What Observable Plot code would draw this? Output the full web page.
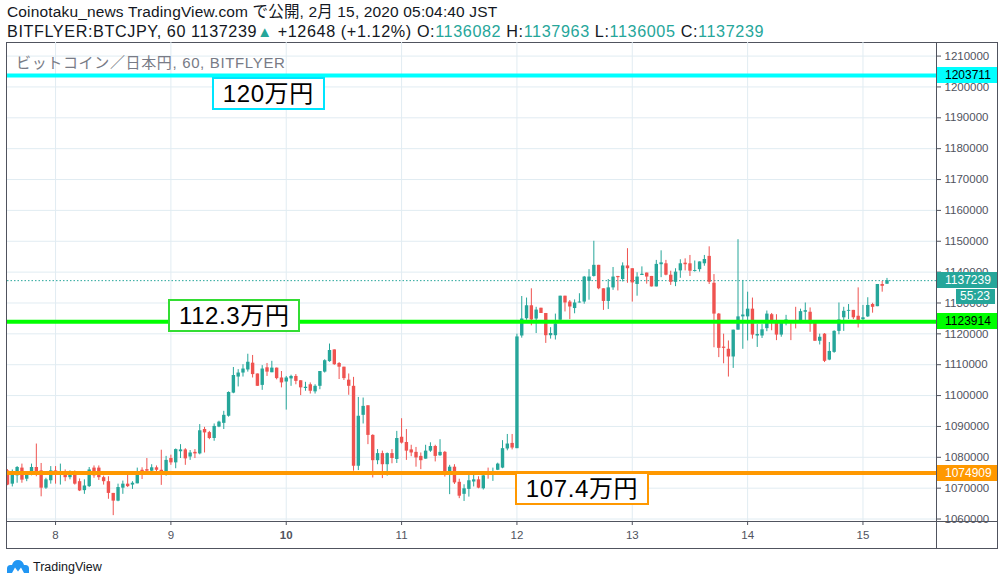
<!DOCTYPE html>
<html><head><meta charset="utf-8">
<script src="https://cdn.jsdelivr.net/npm/d3@7"></script>
<script src="https://cdn.jsdelivr.net/npm/@observablehq/plot@0.6"></script>
<style>
html,body{margin:0;padding:0;background:#fff;}
#root{position:relative;width:1002px;height:586px;overflow:hidden;font-family:"Liberation Sans","Noto Sans CJK JP",sans-serif;color:#131722;}
.hdr{position:absolute;left:7px;font-size:15.5px;white-space:nowrap;line-height:18px;}
.teal{color:#26a69a;}
#chart{position:absolute;left:0;top:42px;}
#outer{position:absolute;left:6px;top:42px;width:990px;height:505px;border:1px solid #50535e;}
#vsep{position:absolute;left:936px;top:42px;width:1px;height:506px;background:#50535e;}
#hsep{position:absolute;left:7px;top:521px;width:990px;height:1px;background:#50535e;}
#sub{position:absolute;left:16px;top:53px;font-size:15px;letter-spacing:0.65px;color:#787b86;white-space:nowrap;line-height:20px;}
.plabel{position:absolute;left:937px;width:60px;height:16px;font-size:12px;line-height:16px;padding-left:8px;box-sizing:border-box;white-space:nowrap;}
.anno{position:absolute;border:2px solid;background:#fff;font-size:24px;line-height:29px;padding:0 9px;white-space:nowrap;color:#000;letter-spacing:0.6px;font-family:"Liberation Sans","Noto Sans CJK JP",sans-serif;}
#logo{position:absolute;left:7px;top:559px;}
#logotxt{position:absolute;left:33px;top:559px;font-size:12.5px;color:#131722;line-height:16px;}
</style></head><body>
<div id="root">
  <div class="hdr" style="top:3px;letter-spacing:0.15px">Coinotaku_news TradingView.com で公開, 2月 15, 2020 05:04:40 JST</div>
  <div class="hdr" style="top:22px;font-size:16.2px;letter-spacing:0.6px">BITFLYER:BTCJPY, 60 1137239<span class="teal" style="font-size:15px">▲</span> +12648 (+1.12%) O:<span class="teal">1136082</span> H:<span class="teal">1137963</span> L:<span class="teal">1136005</span> C:<span class="teal">1137239</span></div>
  <div id="outer"></div>
  <div id="chart"></div>
  <div id="vsep"></div>
  <div id="hsep"></div>
  <div id="sub">ビットコイン／日本円, 60, BITFLYER</div>
  <svg id="logo" width="22" height="15" viewBox="0 0 22 15"><path d="M0 14 L0 9.5 Q0 6 3.5 6 L5 6 Q6.5 1 11 1 Q15.5 1 17 6 L18.5 6 Q22 6 22 9.5 L22 14 L17 14 L14 8.5 L11 12.5 L8 8.5 L5 14 Z" fill="#2196f3"/></svg>
  <div id="logotxt">TradingView</div>
</div>
<script>
// ---- data (JPY, hourly candles from 2020-02-07 14:00 JST) ----
const startTime = "2020-02-07T14:00:00Z";
const opens = [1075600,1071300,1074000,1076500,1072900,1074300,1076700,1075600,1070000,1072400,
1075600,1074500,1075200,1073400,1074800,1072100,1069200,1070500,1076500,1076500,
1073400,1072100,1068300,1065800,1070000,1071300,1071000,1071400,1075800,1076000,
1075500,1076600,1075800,1074400,1079600,1078200,1081800,1082400,1080100,1081600,
1081100,1089000,1088000,1086100,1089800,1091000,1093300,1100800,1106000,1107300,
1108300,1110500,1107000,1103300,1109000,1107400,1108900,1105700,1104400,1105400,
1106200,1104800,1102300,1103500,1101200,1103000,1107600,1111000,1114800,1110400,
1109200,1105000,1103000,1077100,1093600,1096700,1087100,1078900,1081200,1077600,
1081200,1079300,1086500,1084800,1082400,1081600,1080300,1079400,1082000,1083500,
1080500,1081600,1074100,1076800,1071900,1068000,1069600,1072000,1072700,1069800,
1074600,1074400,1075800,1076500,1082700,1084500,1082800,1119300,1124900,1129100,
1124800,1128300,1126600,1119400,1119400,1124400,1132200,1130300,1128200,1130000,
1130300,1137000,1138600,1142200,1134600,1130500,1134900,1138600,1137600,1142000,
1141100,1136000,1138900,1139700,1138600,1135200,1142400,1142700,1139000,1136700,
1140400,1142900,1142700,1140200,1140800,1142700,1145100,1136400,1126400,1115700,
1115000,1112500,1121200,1125500,1125500,1128000,1119300,1119300,1121700,1126200,
1123500,1119600,1124100,1124300,1124000,1124100,1127000,1127000,1123400,1117600,
1119900,1111500,1114000,1120800,1125200,1127300,1127600,1125700,1124600,1125500,
1129500,1128800,1136000,1136082];
const highs = [1076000,1075900,1077000,1077800,1075400,1077800,1084300,1078000,1073200,1077000,
1077000,1077800,1075900,1075600,1075600,1073000,1072700,1076700,1077200,1077200,
1073900,1073700,1068300,1071300,1072300,1074300,1072100,1076500,1076600,1079600,
1077600,1077200,1082300,1080300,1080700,1082700,1084100,1082800,1082200,1082500,
1090600,1089700,1088400,1090800,1091700,1094900,1101200,1109100,1108400,1110000,
1113400,1113000,1107000,1109700,1110400,1111100,1108900,1107800,1106200,1106600,
1106800,1104800,1104300,1104100,1103500,1107800,1111600,1116700,1114800,1110700,
1109200,1107000,1105900,1099400,1099200,1096700,1087300,1082500,1082000,1081400,
1082500,1088400,1092500,1089000,1083900,1083200,1081400,1083900,1084700,1083900,
1085700,1081900,1077400,1077600,1072900,1071100,1074300,1074600,1073700,1074600,
1076500,1076500,1078100,1085400,1087400,1087400,1119900,1132100,1131600,1134600,
1128600,1128300,1126600,1122000,1126400,1132200,1132200,1130800,1131000,1133000,
1138600,1140800,1150000,1142200,1134600,1137600,1141500,1138600,1143000,1147600,
1141100,1139800,1141700,1139700,1138600,1143800,1146900,1143800,1140300,1141100,
1144000,1144300,1145400,1143600,1143300,1145400,1148200,1139200,1126600,1119900,
1117700,1121200,1150500,1137300,1133500,1131600,1123000,1123000,1127400,1126600,
1126200,1124300,1126000,1124300,1128600,1128000,1130000,1128400,1123400,1119900,
1120100,1117200,1121000,1130000,1128600,1129500,1127600,1134900,1129200,1131700,
1129900,1136000,1137000,1137963];
const lows = [1070800,1070400,1071600,1071600,1072100,1074000,1073700,1067200,1069600,1071300,
1071300,1071000,1072100,1072700,1071000,1068900,1068000,1070200,1073200,1072500,
1071000,1066400,1061100,1065600,1068000,1070200,1069600,1071400,1072800,1074600,
1075000,1075300,1070900,1073900,1077400,1076300,1079600,1077400,1079000,1079600,
1080800,1081400,1085700,1085200,1089600,1089000,1093000,1100600,1102800,1106000,
1107600,1105700,1103000,1101700,1106200,1107400,1105100,1102500,1095300,1103000,
1103500,1100000,1101400,1100500,1100500,1101900,1107300,1110800,1109800,1105200,
1104900,1100100,1075500,1075700,1090800,1084100,1073300,1077600,1073100,1073900,
1077900,1078000,1084300,1079000,1080200,1076800,1076000,1079400,1081600,1078500,
1080300,1073600,1067900,1071200,1066600,1065700,1067100,1070400,1069800,1069400,
1072900,1072200,1075700,1076300,1082100,1082400,1082800,1118600,1124400,1122600,
1120100,1126600,1116900,1118300,1118000,1124400,1127100,1124600,1126500,1130000,
1129600,1130900,1138400,1134300,1127600,1127900,1134100,1133900,1136800,1136400,
1130300,1132200,1138900,1136100,1135200,1135200,1138200,1138800,1135700,1135300,
1138000,1140400,1138600,1140000,1140000,1141900,1136000,1115500,1112300,1110300,
1106000,1108800,1121200,1115000,1117700,1118300,1115600,1118500,1120700,1121000,
1117800,1118900,1122600,1117800,1121600,1123300,1124000,1120500,1117600,1116400,
1110700,1111300,1113700,1119700,1120800,1124600,1124600,1121900,1123800,1125300,
1126700,1128800,1133500,1136005];
const closes = [1071000,1074300,1076700,1072600,1074300,1076700,1075400,1070000,1072700,1075600,
1074300,1075400,1073400,1074500,1071300,1069100,1070700,1075900,1074000,1073400,
1072100,1068300,1065800,1070200,1071300,1070500,1071600,1075400,1075000,1075500,
1076600,1075800,1074400,1079000,1078200,1082500,1082400,1079500,1081400,1081100,
1088600,1087900,1086100,1090000,1091400,1093600,1101000,1106500,1107300,1108600,
1110800,1106800,1103000,1108600,1107600,1108900,1105500,1104100,1105700,1106200,
1104600,1102500,1102700,1101400,1103000,1107800,1111300,1114600,1110000,1109200,
1105500,1103000,1077100,1093300,1096500,1087100,1078900,1081200,1077600,1081200,
1079600,1086100,1084600,1082000,1081400,1079800,1078900,1082000,1083500,1080300,
1081600,1074100,1076800,1071700,1067400,1069800,1072400,1072700,1070000,1074000,
1074100,1074900,1077800,1082800,1084300,1083000,1119000,1124800,1129100,1124500,
1127700,1126600,1119400,1120100,1123200,1132200,1130000,1128700,1130000,1130300,
1138400,1138400,1142200,1134600,1130500,1134900,1138400,1138200,1142000,1141100,
1136500,1138400,1139300,1138400,1135200,1142500,1143000,1139000,1136700,1140000,
1142700,1142400,1140300,1140500,1143300,1144100,1136700,1126400,1115300,1115300,
1112500,1121200,1125500,1126100,1128000,1119600,1119800,1121300,1126400,1123700,
1119600,1124300,1124500,1124000,1123500,1127200,1127500,1123200,1117600,1118900,
1111100,1114300,1120800,1124500,1127300,1127600,1125200,1124300,1125200,1129200,
1128600,1136000,1135400,1137239];

// levels drawn on the chart
const levelPrices = [1203711, 1123914, 1074909];
const levelNames = ["cyan", "green", "orange"];
const lastPrice = 1137239;
const countdown = "55:23";

// text annotations (anchor time, top price)
const annoTexts = ["120万円", "112.3万円", "107.4万円"];
const annoTimes = ["2020-02-09T08:36:00Z", "2020-02-08T23:30:00Z", "2020-02-11T23:40:00Z"];
const annoPrices = [1203000, 1131100, 1075100];

// axis ticks
const yTicks = [1060000,1070000,1080000,1090000,1100000,1110000,1120000,1130000,1140000,1150000,1160000,1170000,1180000,1190000,1200000,1210000];
const dayTicks = ["2020-02-08","2020-02-09","2020-02-10","2020-02-11","2020-02-12","2020-02-13","2020-02-14","2020-02-15"];
const boldDay = "2020-02-10";
const xDomain = ["2020-02-07T14:00:00Z", "2020-02-15T15:18:00Z"];
const yDomain = [1059200, 1214400];

// ---- styles ----
const UP = "#26a69a", DOWN = "#ef5350";
const levelColors = {cyan: "#00ffff", green: "#00ff00", orange: "#ff9800"};
const levelText = {cyan: "#000", green: "#000", orange: "#fff"};
const annoBorder = {cyan: "#00e5ff", green: "#33dd33", orange: "#ff9800"};

const t0 = Date.parse(startTime);
const candles = opens.map((o, i) => ({
  t: new Date(t0 + i * 3600e3), o, h: highs[i], l: lows[i], c: closes[i]
}));
const colorOf = d => d.c >= d.o ? UP : DOWN;
const dayDates = dayTicks.map(s => new Date(s + "T00:00:00Z"));
const normalDays = dayDates.filter(d => +d !== +new Date(boldDay + "T00:00:00Z"));
const boldDays = [new Date(boldDay + "T00:00:00Z")];
const axisStyle = {fill: "#50535e", fontSize: 11.5};

const plot = Plot.plot({
  width: 1002, height: 506,
  marginLeft: 7, marginRight: 66, marginTop: 0, marginBottom: 27,
  style: {background: "transparent", fontFamily: "Liberation Sans, sans-serif", overflow: "visible"},
  x: {type: "utc", domain: xDomain.map(s => new Date(s))},
  y: {domain: yDomain},
  color: {type: "identity"},
  marks: [
    Plot.gridY(yTicks, {stroke: "#e1ecf2", strokeOpacity: 1}),
    Plot.gridX(dayDates, {stroke: "#e1ecf2", strokeOpacity: 1}),
    Plot.axisY(yTicks, {anchor: "right", tickSize: 4, tickPadding: 4, tickFormat: d3.format("d"), stroke: "#50535e", ...axisStyle, label: null}),
    Plot.axisX(normalDays, {anchor: "bottom", tickSize: 4, tickPadding: 5, tickFormat: d => d.getUTCDate(), stroke: "#50535e", ...axisStyle, label: null}),
    Plot.axisX(boldDays, {anchor: "bottom", tickSize: 4, tickPadding: 5, tickFormat: d => d.getUTCDate(), stroke: "#50535e", ...axisStyle, fontWeight: "bold", label: null}),
    Plot.ruleY([lastPrice], {stroke: UP, strokeDasharray: "1.5,2", strokeWidth: 1}),
    Plot.ruleX(candles, {x: "t", y1: "l", y2: "h", stroke: colorOf, strokeWidth: 1, clip: true}),
    Plot.ruleX(candles, {x: "t", y1: "o", y2: "c", stroke: colorOf, strokeWidth: 3.4, clip: true}),
    Plot.ruleY(levelPrices.map((p, i) => ({p, k: levelNames[i]})), {y: "p", stroke: d => levelColors[d.k], strokeWidth: 4})
  ]
});
document.getElementById("chart").appendChild(plot);

const xs = plot.scale("x"), ys = plot.scale("y");
const root = document.getElementById("root");
const top0 = 42;

// annotation boxes
annoTexts.forEach((txt, i) => {
  const k = levelNames[i];
  const div = document.createElement("div");
  div.className = "anno";
  div.textContent = txt;
  div.style.left = xs.apply(new Date(annoTimes[i])) + "px";
  div.style.top = (top0 + ys.apply(annoPrices[i])) + "px";
  div.style.borderColor = annoBorder[k];
  root.appendChild(div);
});

// price labels on the right axis
function priceLabel(text, price, bg, fg) {
  const div = document.createElement("div");
  div.className = "plabel";
  div.textContent = text;
  div.style.top = (top0 + ys.apply(price) - 8) + "px";
  div.style.background = bg;
  div.style.color = fg;
  root.appendChild(div);
  return div;
}
levelPrices.forEach((p, i) => priceLabel(String(p), p, levelColors[levelNames[i]], levelText[levelNames[i]]));
priceLabel(String(lastPrice), lastPrice, UP, "#fff");
const cd = priceLabel(countdown, lastPrice, UP, "#fff");
cd.style.top = (top0 + ys.apply(lastPrice) + 9) + "px";
cd.style.left = "956px";
cd.style.width = "39px";
cd.style.paddingLeft = "4px";
cd.style.height = "15px";
cd.style.lineHeight = "15px";
</script>
</body></html>
